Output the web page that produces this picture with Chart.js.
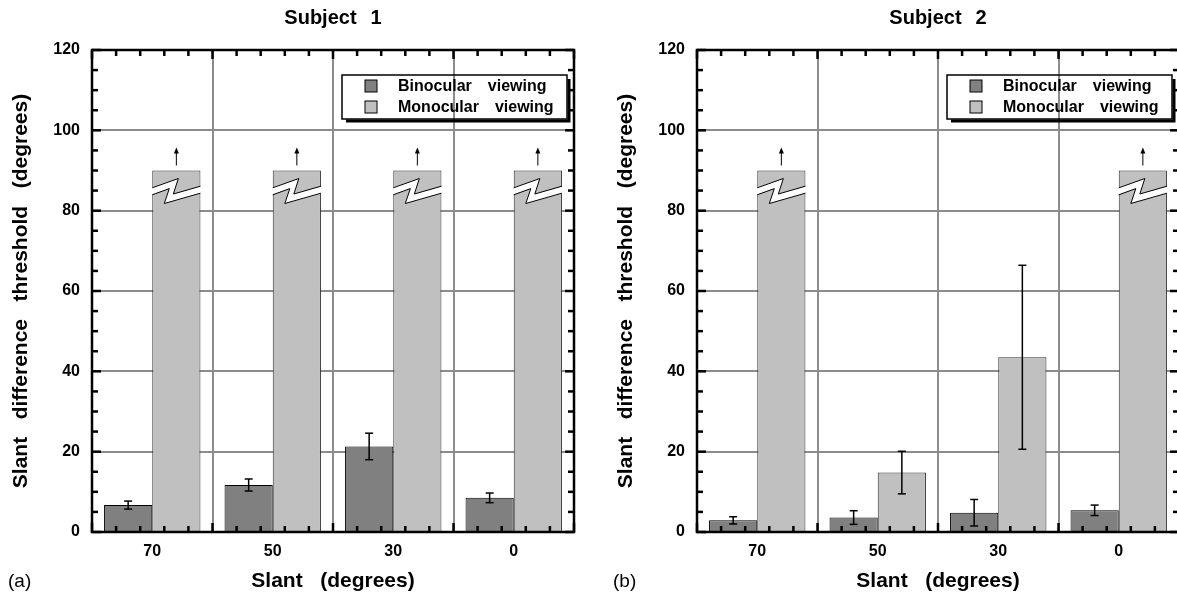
<!DOCTYPE html>
<html>
<head>
<meta charset="utf-8">
<script src="https://cdn.jsdelivr.net/npm/chart.js"></script>
<style>
html, body { margin: 0; padding: 0; background: #fff; overflow: hidden; }
#wrap { position: relative; width: 1177px; height: 594px; overflow: hidden; }
canvas { position: absolute; top: 0; }
#chartA { left: 0; }
#chartB { left: 605px; }
</style>
</head>
<body>
<div id="wrap">
  <canvas id="chartA" width="590" height="594"></canvas>
  <canvas id="chartB" width="590" height="594"></canvas>
</div>
<script>
var slants = ['70', '50', '30', '0'];
var seriesNames = ['Binocular viewing', 'Monocular viewing'];

// Subject 1 thresholds (deg) and +/- error
var s1Bino = [6.7, 11.7, 21.3, 8.5];
var s1BinoErr = [1.0, 1.5, 3.3, 1.2];
var s1Mono = [90, 90, 90, 90];
var s1MonoErr = [0, 0, 0, 0];
var s1MonoOff = [true, true, true, true];

// Subject 2
var s2Bino = [2.9, 3.6, 4.8, 5.4];
var s2BinoErr = [0.9, 1.7, 3.3, 1.3];
var s2Mono = [90, 14.8, 43.5, 90];
var s2MonoErr = [0, 5.3, 22.9, 0];
var s2MonoOff = [true, false, false, true];

var FONT = "'Liberation Sans', Arial, Helvetica, sans-serif";
var gridGray = '#8c8c8c';

function line(ctx, x1, y1, x2, y2) {
    ctx.beginPath();
    ctx.moveTo(x1, y1);
    ctx.lineTo(x2, y2);
    ctx.stroke();
}

// words drawn with a fixed gap between them
function drawWords(ctx, text, x, y, gap) {
    text.split(' ').forEach(function (w) {
        ctx.fillText(w, x, y);
        x += ctx.measureText(w).width + gap;
    });
}

// white zigzag "break" across an off-scale bar
function drawBreak(ctx, bar) {
    var L = bar.x - bar.width / 2;
    var t = bar.y;
    var k = bar.width / 48;
    var upper = [[-1, 17.3], [26, 8], [21, 23.5], [49, 15.7]];
    var lower = [[49, 22.7], [12, 33], [17, 18.1], [-1, 24.3]];
    var pts = upper.concat(lower);
    ctx.beginPath();
    pts.forEach(function (p, i) {
        var px = L + p[0] * k, py = t + p[1];
        if (i === 0) ctx.moveTo(px, py); else ctx.lineTo(px, py);
    });
    ctx.closePath();
    ctx.fillStyle = '#fff';
    ctx.fill();
    ctx.strokeStyle = '#000';
    ctx.lineWidth = 1;
    ctx.lineJoin = 'miter';
    [upper, lower].forEach(function (poly) {
        ctx.beginPath();
        poly.forEach(function (p, i) {
            var px = L + Math.min(Math.max(p[0], 0), 48) * k, py = t + p[1];
            if (i === 0) ctx.moveTo(px, py); else ctx.lineTo(px, py);
        });
        ctx.stroke();
    });
}

function drawArrow(ctx, bar) {
    var x = bar.x, y0 = bar.y - 5, y1 = bar.y - 23;
    ctx.strokeStyle = '#000';
    ctx.fillStyle = '#000';
    ctx.lineWidth = 1;
    line(ctx, x, y0, x, y1 + 4);
    ctx.beginPath();
    ctx.moveTo(x, y1);
    ctx.lineTo(x - 2.5, y1 + 6);
    ctx.lineTo(x + 2.5, y1 + 6);
    ctx.closePath();
    ctx.fill();
}

var decor = {
    id: 'decor',
    afterDatasetsDraw: function (chart, args, opts) {
        var ctx = chart.ctx, a = chart.chartArea;
        var y = chart.scales.y;
        ctx.save();

        // error bars, breaks, arrows
        chart.data.datasets.forEach(function (ds, di) {
            chart.getDatasetMeta(di).data.forEach(function (el, i) {
                var bar = el.getProps(['x', 'y', 'base', 'width'], true);
                var err = ds.errors[i];
                if (err) {
                    var top = y.getPixelForValue(ds.data[i] + err);
                    var bot = y.getPixelForValue(ds.data[i] - err);
                    ctx.strokeStyle = '#000';
                    ctx.lineWidth = 1.5;
                    line(ctx, bar.x, top, bar.x, bot);
                    line(ctx, bar.x - 4, top, bar.x + 4, top);
                    line(ctx, bar.x - 4, bot, bar.x + 4, bot);
                }
                if (ds.offScale && ds.offScale[i]) {
                    drawBreak(ctx, bar);
                    drawArrow(ctx, bar);
                }
            });
        });

        // frame
        ctx.strokeStyle = '#000';
        ctx.lineWidth = 2.5;
        ctx.strokeRect(a.left, a.top, a.right - a.left, a.bottom - a.top);

        // inward tick marks on all four sides
        for (var v = y.min; v <= y.max; v += 5) {
            var py = y.getPixelForValue(v);
            var len = v % 20 === 0 ? 9 : 6;
            line(ctx, a.left, py, a.left + len, py);
            line(ctx, a.right, py, a.right - len, py);
        }
        var n = slants.length * 5;
        var step = (a.right - a.left) / n;
        for (var k = 0; k <= n; k++) {
            var px = a.left + k * step;
            var tl = k % 5 === 0 ? 9 : 6;
            line(ctx, px, a.top, px, a.top + tl);
            line(ctx, px, a.bottom, px, a.bottom - tl);
        }

        // legend box with drop shadow
        var bw = 225, bh = 44;
        var bx = a.right - 7 - bw, by = a.top + 25;
        ctx.lineWidth = 1.5;
        ctx.strokeRect(bx, by, bw, bh);
        ctx.lineWidth = 3;
        ctx.beginPath();
        ctx.moveTo(bx + bw + 2, by + 4);
        ctx.lineTo(bx + bw + 2, by + bh + 2);
        ctx.lineTo(bx + 4, by + bh + 2);
        ctx.stroke();
        ctx.font = 'bold 16px ' + FONT;
        ctx.textBaseline = 'middle';
        ctx.textAlign = 'left';
        chart.data.datasets.forEach(function (ds, i) {
            var cy = by + 11 + i * 21;
            ctx.fillStyle = ds.backgroundColor;
            ctx.fillRect(bx + 23, cy - 6, 12, 12);
            ctx.lineWidth = 1;
            ctx.strokeStyle = '#000';
            ctx.strokeRect(bx + 23, cy - 6, 12, 12);
            ctx.fillStyle = '#000';
            drawWords(ctx, ds.label, bx + 56, cy + 1, 16);
        });

        // panel title and letter
        ctx.fillStyle = '#000';
        ctx.font = 'bold 20px ' + FONT;
        ctx.textAlign = 'left';
        var tw = 0, words = opts.title.split(' ');
        words.forEach(function (w) { tw += ctx.measureText(w).width; });
        tw += 14 * (words.length - 1);
        drawWords(ctx, opts.title, (a.left + a.right) / 2 - tw / 2, 18, 14);

        ctx.font = '19px ' + FONT;
        ctx.fillText(opts.panel, 8, 582);
        ctx.restore();
    }
};

function makeChart(id, title, panel, bino, binoErr, mono, monoErr, monoOff) {
    var ctx = document.getElementById(id);
    return new Chart(ctx, {
        type: 'bar',
        data: {
            labels: slants,
            datasets: [{
                label: seriesNames[0],
                data: bino,
                errors: binoErr,
                backgroundColor: '#808080',
                borderColor: '#000',
                borderWidth: 1,
                categoryPercentage: 0.8,
                barPercentage: 1.0
            }, {
                label: seriesNames[1],
                data: mono,
                errors: monoErr,
                offScale: monoOff,
                backgroundColor: '#c0c0c0',
                borderColor: '#333',
                borderWidth: 1,
                categoryPercentage: 0.8,
                barPercentage: 1.0
            }]
        },
        options: {
            responsive: false,
            animation: false,
            layout: { padding: { top: 50, right: 16, bottom: 0, left: 0 } },
            plugins: {
                legend: { display: false },
                tooltip: { enabled: false },
                decor: { title: title, panel: panel }
            },
            scales: {
                x: {
                    afterFit: function (s) { s.height = 62; },
                    grid: { color: gridGray, lineWidth: 2, drawTicks: false, offset: true },
                    border: { display: false },
                    ticks: { color: '#000', padding: 10, font: { family: FONT, size: 16, weight: 'bold' } },
                    title: {
                        display: true,
                        text: 'Slant   (degrees)',
                        color: '#000',
                        padding: { top: 0, bottom: 0 },
                        font: { family: FONT, size: 21, weight: 'bold' }
                    }
                },
                y: {
                    min: 0,
                    max: 120,
                    afterFit: function (s) { s.width = 92; },
                    grid: { color: gridGray, lineWidth: 2, drawTicks: false },
                    border: { display: false },
                    ticks: { stepSize: 20, color: '#000', padding: 12, font: { family: FONT, size: 16, weight: 'bold' } },
                    title: {
                        display: true,
                        text: 'Slant   difference   threshold   (degrees)',
                        color: '#000',
                        padding: { top: 9, bottom: 0 },
                        font: { family: FONT, size: 21, weight: 'bold' }
                    }
                }
            }
        },
        plugins: [decor]
    });
}

makeChart('chartA', 'Subject 1', '(a)', s1Bino, s1BinoErr, s1Mono, s1MonoErr, s1MonoOff);
makeChart('chartB', 'Subject 2', '(b)', s2Bino, s2BinoErr, s2Mono, s2MonoErr, s2MonoOff);
</script>
</body>
</html>
